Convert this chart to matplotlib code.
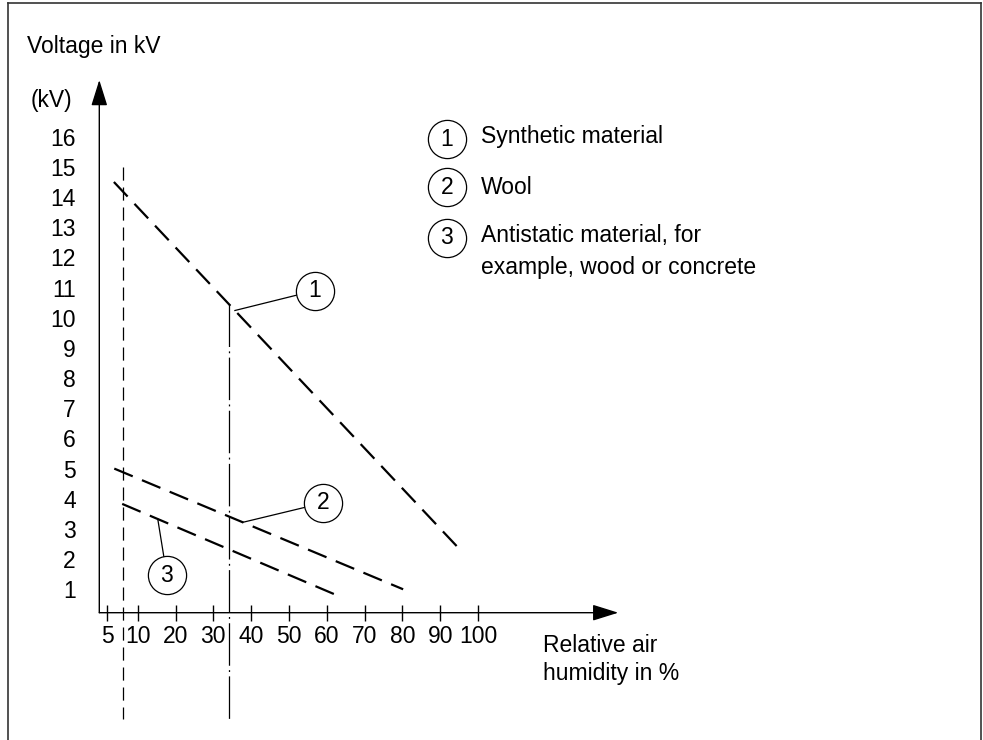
import numpy as np
import matplotlib
matplotlib.use("Agg")
import matplotlib.pyplot as plt
from matplotlib.lines import Line2D

# curve end points: relative air humidity (%) -> voltage (kV)
synthetic_humidity = [3.7, 96.1]
synthetic_voltage = [14.5, 2.2]
wool_humidity = [3.8, 80.2]
wool_voltage = [5.0, 1.0]
antistatic_humidity = [5.9, 64.2]
antistatic_voltage = [3.83, 0.72]

# vertical guide lines (humidity) and their ends (kV)
guide_dashed_x = 6.0
guide_dashed_top = 15.0
guide_dashdot_x = 34.1
guide_bottom = -3.3

x_tick_pos = [2, 10, 20, 30, 40, 50, 60, 70, 80, 90, 100]
x_tick_labels = ["5", "10", "20", "30", "40", "50", "60", "70", "80", "90", "100"]
y_ticks = list(range(1, 17))

legend_numbers = ["1", "2", "3"]
legend_texts = ["Synthetic material", "Wool",
                "Antistatic material, for\nexample, wood or concrete"]

# numbered callouts: humidity where the pointer touches the curve, circle centre
callout_anchor_x = [35.7, 37.8, 15.3]
callout_circle = [(56.9, 10.9), (59.0, 3.86), (17.7, 1.47)]

W, H = 983, 740
FS = 16.5
plt.rcParams['font.family'] = ['Liberation Sans', 'DejaVu Sans']


def fx(px):
    return px / W


def fy(py):
    return 1 - py / H


fig = plt.figure(figsize=(W / 100, H / 100), dpi=100)
ax = fig.add_axes([fx(99.3), fy(612.7), (618.3 - 99.3) / W, (612.7 - 80) / H])
ax.set_xlim(-0.16, 137.1)
ax.set_ylim(0.224, 17.88)
for s in ax.spines.values():
    s.set_visible(False)

ax.set_xticks(x_tick_pos, x_tick_labels)
ax.set_yticks(y_ticks)
ax.tick_params(axis='x', direction='inout', length=11.5, width=1, pad=3, labelsize=FS)
ax.tick_params(axis='y', length=0, pad=17, labelsize=FS)

## axis arrows
x0, x1 = ax.get_xlim()
y0, y1 = ax.get_ylim()
arrow = dict(arrowstyle='-|>,head_length=1.6,head_width=0.5', mutation_scale=10,
             lw=1, color='black', shrinkA=0, shrinkB=0)
ax.annotate("", xy=(x1, y0), xytext=(x0, y0), arrowprops=arrow, annotation_clip=False)
ax.annotate("", xy=(x0, y1), xytext=(x0, y0), arrowprops=arrow, annotation_clip=False)

## curves
curves = [(synthetic_humidity, synthetic_voltage),
          (wool_humidity, wool_voltage),
          (antistatic_humidity, antistatic_voltage)]
for hx, vy in curves:
    ax.plot(hx, vy, color='black', lw=1.6, dashes=(9, 4.5), solid_capstyle='butt')

## guide lines
ax.plot([guide_dashed_x, guide_dashed_x], [guide_dashed_top, guide_bottom],
        color='black', lw=0.9, dashes=(10.5, 5.5), clip_on=False)
top1 = np.interp(guide_dashdot_x, synthetic_humidity, synthetic_voltage)
ax.plot([guide_dashdot_x, guide_dashdot_x], [top1, guide_bottom],
        color='black', lw=0.9, dashes=(34, 3.5, 1.5, 3.5), clip_on=False)

## callouts
for (hx, vy), ax_x, (cx, cy), num in zip(curves, callout_anchor_x, callout_circle, legend_numbers):
    ay = np.interp(ax_x, hx, vy)
    ax.plot([ax_x, cx], [ay, cy], color='black', lw=0.9)
    ax.plot(cx, cy, 'o', ms=27.5, mfc='white', mec='black', mew=0.9, zorder=5)
    ax.text(cx, cy, num, ha='center', va='center', fontsize=FS, zorder=6)

## legend
legend_y = [139.3, 187.3, 237.7]
text_y = [136.7, 187.3, 251.5]
for num, txt, cy, ty in zip(legend_numbers, legend_texts, legend_y, text_y):
    fig.add_artist(Line2D([fx(446.7)], [fy(cy)], marker='o', ms=27.5, mfc='white',
                          mec='black', mew=0.9, ls='none'))
    fig.text(fx(446.7), fy(cy), num, ha='center', va='center', fontsize=FS)
    fig.text(fx(481), fy(ty), txt, ha='left', va='center', fontsize=FS, linespacing=1.45)

## axis titles
fig.text(fx(27), fy(47), "Voltage in kV", ha='left', va='center', fontsize=FS)
fig.text(fx(31), fy(101), "(kV)", ha='left', va='center', fontsize=FS)
fig.text(fx(542.7), fy(659.4), "Relative air\nhumidity in %", ha='left', va='center',
         fontsize=FS, linespacing=1.25)

## frame
frame = dict(color='#333333', lw=1.2)
fig.add_artist(Line2D([fx(8), fx(8)], [fy(745), fy(3)], **frame))
fig.add_artist(Line2D([fx(8), fx(981)], [fy(3), fy(3)], **frame))
fig.add_artist(Line2D([fx(981), fx(981)], [fy(3), fy(745)], **frame))

fig.savefig("out.png", dpi=100)
